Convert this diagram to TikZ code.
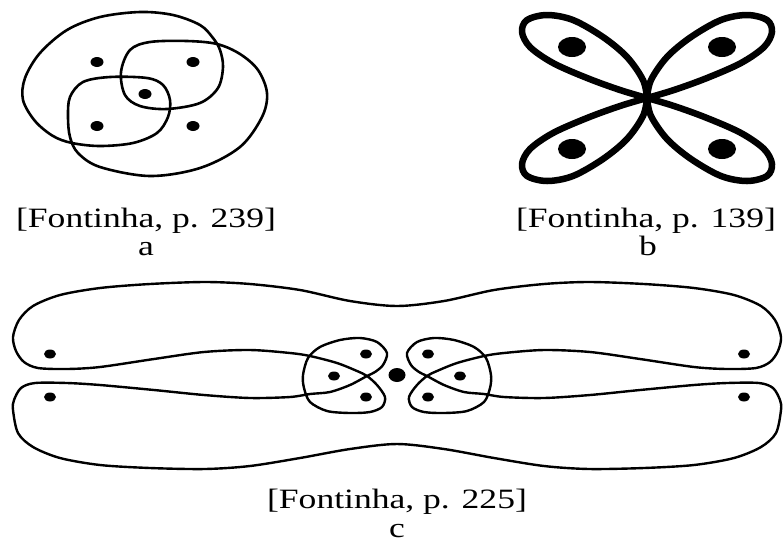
\documentclass[tikz,border=0pt]{standalone}
\usepackage{fontspec}
\setmainfont{Liberation Serif}
\usepackage{tikz}
\usetikzlibrary{positioning}

\begin{document}
\begin{tikzpicture}[x=1pt, y=-1pt,
  curve/.style={line width=2.6pt, line join=round},
  thincurve/.style={line width=2.4pt, line join=round},
  petal/.style={line width=6.5pt, line join=round},
  caption/.style={font=\fontsize{28}{30}\selectfont, xscale=1.27, anchor=base, inner sep=0pt}
]
  \useasboundingbox (0,0) rectangle (784,542);

  % a: two hooked loops
  \draw[curve] plot[smooth cycle, tension=0.55] coordinates {
    (140,12) (100,17) (67,30) (40,53) (25,78) (23,100) (35,121) (53,136) (72,143)
    (100,146) (133,143) (157,133) (168,117) (170,100) (163,85) (147,78) (110,77)
    (83,82) (70,97) (68,117) (70,137) (78,153) (100,167) (150,176) (200,168)
    (240,147) (262,117) (267,93) (258,70) (240,54) (217,44) (187,41) (150,42)
    (130,50) (121,72) (125,95) (140,106) (167,109) (200,103) (218,88) (223,67)
    (220,50) (213,38) (200,25) (173,15)};
  \foreach \p in {(97,62),(193,62),(145,94),(97,126),(193,126)}
    \fill \p ellipse[x radius=6.5pt, y radius=5pt];

  % b: four petals
  \foreach \sx/\sy in {1/1,-1/1,1/-1,-1/-1}{
    \begin{scope}[shift={(647,98)}, xscale=\sx, yscale=\sy]
      \draw[petal] plot[smooth, tension=0.55] coordinates {
        (0,0) (-4,-18) (-20,-41) (-44,-61) (-74,-78) (-100,-83) (-120,-78)
        (-125,-66) (-117,-51) (-94,-35) (-60,-20) (-27,-8) (0,0)};
      \fill (-75,-51) ellipse[x radius=14pt, y radius=10pt];
    \end{scope}
  }

  % c: one long closed curve
  \draw[thincurve] plot[smooth cycle, tension=0.5] coordinates {
    (13,337) (19,320) (33,306) (60,295) (100,288) (150,284) (205,282) (250,284)
    (300,290) (350,301) (397,306) (444,301) (494,290) (544,284) (589,282)
    (644,284) (694,288) (734,295) (761,306) (775,320) (781,337)
    (778,351) (770,362) (756,368) (727,369) (694,367) (640,359) (590,352)
    (544,350) (504,353)
    (484,356) (457,363) (437,371) (427,376) (417,385) (409,397) (412,407)
    (424,412) (444,413) (467,411) (484,402) (490,388) (491,375) (486,358)
    (474,347) (454,340) (434,338) (417,342) (407,353) (411,365) (419,372)
    (427,376) (444,385) (464,392) (484,394) (504,397)
    (544,398) (590,395) (640,390) (694,385) (727,383) (759,383) (773,388)
    (780,400) (781,410) (776,433) (761,447) (734,458) (694,465) (644,468)
    (589,469) (544,466) (494,458) (444,449) (397,444) (350,449) (300,458)
    (250,466) (205,469) (150,468) (100,465) (60,458) (33,447) (18,433)
    (13,410) (14,400) (21,388) (35,383) (67,383) (100,385) (154,390)
    (204,395) (250,398) (290,397)
    (310,394) (330,392) (350,385) (367,376) (375,372) (383,365) (387,353)
    (377,342) (360,338) (340,340) (320,347) (308,358) (303,375) (304,388)
    (310,402) (327,411) (350,413) (370,412) (382,407) (385,397) (377,385)
    (367,376) (357,371) (337,363) (310,356) (290,353)
    (250,350) (204,352) (154,359) (100,367) (67,369) (38,368) (24,362) (16,351)};
  \foreach \p in {(50,354),(50,397),(744,354),(744,397),
                  (366,354),(334,376),(366,397),(428,354),(460,376),(428,397)}
    \fill \p ellipse[x radius=6pt, y radius=4.5pt];
  \fill (397,375) ellipse[x radius=8.5pt, y radius=7pt];

  \node[caption] (capA) at (146,227) {[Fontinha, p. 239]};
  \node[caption] (letA) at (146,255) {a};
  \node[caption] (capB) at (646,227) {[Fontinha, p. 139]};
  \node[caption] (letB) at (648,255) {b};
  \node[caption] (capC) at (397,508) {[Fontinha, p. 225]};
  \node[caption] (letC) at (397,537) {c};
\end{tikzpicture}
\end{document}
